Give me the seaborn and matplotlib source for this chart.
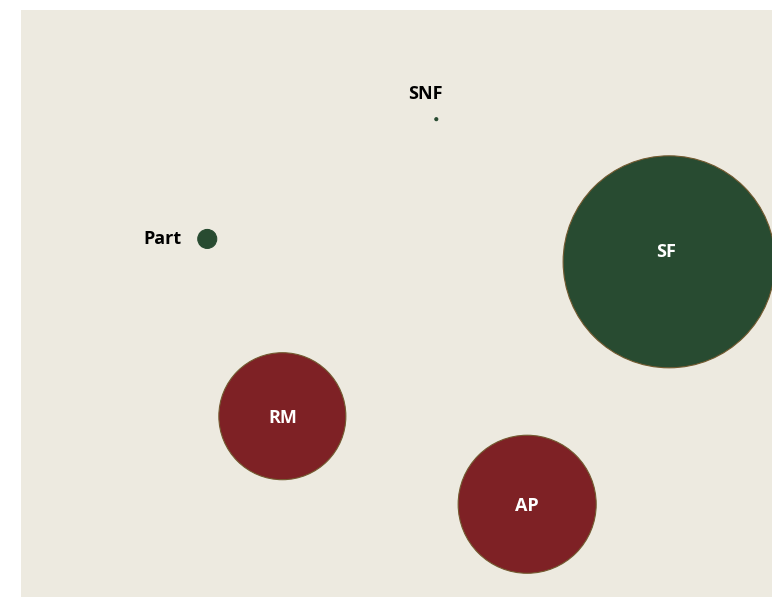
import matplotlib
matplotlib.use("Agg")
import matplotlib.pyplot as plt
import seaborn as sns
import pandas as pd

# Data (axes hidden)
labels = ["SNF", "Part", "SF", "RM", "AP"]
x_vals = [55.3, 24.8, 86.3, 34.8, 67.4]
y_vals = [81.4, 61.0, 57.1, 30.8, 15.8]
size_vals = [0.02, 0.80, 100.0, 35.9, 42.4]
groups = ["green", "green", "green", "red", "red"]

df = pd.DataFrame({"label": labels, "x": x_vals, "y": y_vals,
                   "size": size_vals, "group": groups})

sns.set_theme(style="white")
plt.rcParams["font.family"] = ["Open Sans", "DejaVu Sans"]

DPI = 100
fig = plt.figure(figsize=(7.72, 5.97), dpi=DPI)
fig.patch.set_facecolor("white")
ax = fig.add_axes([21 / 772, 0, 751 / 772, 587 / 597])
ax.set_facecolor("#EDEAE0")

px2pt = 72 / DPI
max_area = (212 * px2pt) ** 2

palette = {"green": "#284B31", "red": "#7E2125"}
sns.scatterplot(data=df, x="x", y="y", hue="group", size="size",
                sizes=(0, max_area), size_norm=(0, 100), palette=palette,
                edgecolor="#735A30", linewidth=0.8, legend=False, ax=ax,
                alpha=1, clip_on=False)
# small bubbles have no visible outline
coll = ax.collections[0]
fc = coll.get_facecolors()
edges = [fc[i] if v < 5 else "#735A30" for i, v in enumerate(size_vals)]
coll.set_edgecolors(edges)

ax.set_xlim(0, 100)
ax.set_ylim(0, 100)
ax.set_xticks([])
ax.set_yticks([])
ax.set_xlabel("")
ax.set_ylabel("")
for s in ax.spines.values():
    s.set_visible(False)

# Label placement (offsets in pixels converted to points)
label_style = {
    "SNF": dict(off=(-11, 25), ha="center", color="black"),
    "Part": dict(off=(-26, 0), ha="right", color="black"),
    "SF": dict(off=(-3, 10), ha="center", color="white"),
    "RM": dict(off=(0, -2), ha="center", color="white"),
    "AP": dict(off=(0, -2), ha="center", color="white"),
}
for _, r in df.iterrows():
    st = label_style[r["label"]]
    ax.annotate(r["label"], (r["x"], r["y"]),
                xytext=(st["off"][0] * px2pt, st["off"][1] * px2pt),
                textcoords="offset points", ha=st["ha"], va="center",
                fontsize=13, fontweight="bold", color=st["color"])

fig.savefig("out.png", dpi=DPI, facecolor=fig.get_facecolor())
